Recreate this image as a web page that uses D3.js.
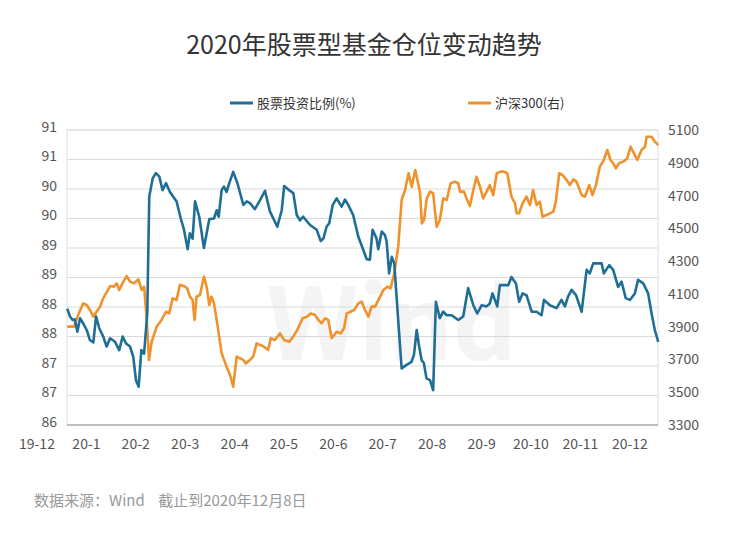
<!DOCTYPE html>
<html>
<head>
<meta charset="utf-8">
<script src="https://cdn.jsdelivr.net/npm/d3@7"></script>
<style>
  body { margin: 0; background: #fff; }
  text { font-family: "Noto Sans CJK SC", "Noto Sans", sans-serif; }
</style>
</head>
<body>
<svg id="chart" width="729" height="541"></svg>
<script>
// trading-day index, value
var stockRatio = [
  [0.1,87.97],[1.2,87.84],[2.3,87.78],[3.2,87.79],[4.2,87.58],[5.3,87.81],[6.6,87.72],[8.0,87.61],[9.3,87.44],[10.7,87.40],
  [11.8,87.84],[13.1,87.64],[14.7,87.50],[16.1,87.33],[17.5,87.47],[19.5,87.41],[21.2,87.27],[22.6,87.50],[24.0,87.38],[25.6,87.33],
  [26.9,87.16],[28.0,86.76],[29.1,86.65],[30.2,87.27],[31.3,87.21],[32.6,87.89],[33.4,89.87],[34.8,90.18],[36.1,90.27],[37.5,90.21],
  [38.8,89.98],[40.2,90.10],[41.8,89.95],[44.5,89.79],[46.2,89.50],[47.5,89.31],[49.0,88.98],[49.9,89.25],[51.0,89.16],[52.0,89.79],
  [53.7,89.53],[55.6,89.00],[57.8,89.49],[59.7,89.50],[60.8,89.64],[61.6,89.53],[62.8,89.98],[63.7,90.04],[64.8,89.95],[65.9,90.10],
  [67.5,90.29],[69.2,90.10],[71.6,89.73],[73.0,89.79],[74.3,89.76],[76.3,89.66],[78.4,89.81],[80.4,89.97],[82.4,89.62],[85.4,89.36],
  [87.2,89.64],[88.2,90.05],[89.9,89.99],[91.9,89.93],[93.3,89.56],[94.6,89.47],[95.9,89.53],[98.7,89.39],[101.4,89.31],[103.0,89.12],
  [104.1,89.16],[105.4,89.36],[106.5,89.42],[107.9,89.73],[109.5,89.84],[111.5,89.70],[112.9,89.82],[114.2,89.73],[116.2,89.56],[118.3,89.19],
  [120.3,88.97],[121.7,88.81],[123.0,88.80],[124.1,89.31],[125.7,89.16],[126.4,88.98],[127.8,89.28],[129.1,89.22],[129.8,89.11],[130.8,88.57],
  [131.9,88.85],[132.9,88.74],[134.5,87.78],[135.9,86.96],[137.9,87.02],[139.9,87.07],[140.9,87.19],[142.0,87.61],[143.0,87.33],[144.0,87.10],
  [144.9,87.05],[146.0,86.79],[147.4,86.76],[148.7,86.59],[149.8,88.09],[151.4,87.81],[152.8,87.92],[154.2,87.86],[156.2,87.86],[158.9,87.78],
  [160.9,87.84],[162.9,88.32],[165.0,88.03],[166.6,87.89],[168.4,88.03],[170.4,88.01],[171.7,88.06],[172.8,88.23],[174.7,88.01],[175.8,88.37],
  [177.8,88.37],[179.2,88.37],[180.5,88.51],[182.3,88.40],[183.6,88.09],[185.0,88.23],[186.6,88.20],[188.7,87.92],[190.7,87.92],[192.7,87.86],
  [193.7,88.12],[196.1,88.03],[198.8,87.98],[200.8,88.12],[202.2,88.01],[203.5,88.18],[204.9,88.29],[206.7,88.20],[209.0,87.92],[211.0,88.63],
  [212.3,88.57],[213.7,88.74],[215.1,88.74],[217.1,88.74],[218.0,88.57],[220.2,88.71],[221.8,88.63],[223.8,88.34],[225.2,88.43],[226.9,88.15],
  [228.6,88.12],[230.6,88.23],[231.9,88.46],[234.0,88.40],[236.0,88.23],[237.4,87.89],[238.7,87.61],[240.1,87.41]
];
var hs300 = [
  [0.1,3900],[2.8,3900],[4.8,3981],[6.6,4042],[8.0,4032],[9.3,4002],[10.7,3961],[12.0,3991],[13.4,4022],[14.7,4073],
  [17.5,4148],[19.1,4144],[20.2,4164],[21.2,4124],[22.9,4175],[24.2,4209],[25.6,4175],[27.2,4164],[29.0,4189],[30.3,4124],
  [31.3,4144],[32.3,3961],[33.3,3697],[34.4,3808],[36.4,3900],[38.4,3941],[40.2,3991],[41.5,3981],[42.9,4073],[44.5,4063],
  [45.8,4154],[47.5,4148],[48.8,4134],[49.9,4083],[51.0,4063],[51.8,3941],[52.6,4083],[54.0,4093],[55.6,4205],[56.7,4144],
  [57.8,4032],[58.7,4083],[59.7,4042],[61.0,3920],[62.8,3737],[64.8,3656],[66.2,3605],[67.5,3534],[68.9,3717],[70.2,3707],
  [71.6,3697],[72.6,3676],[74.3,3697],[75.6,3717],[77.0,3798],[78.4,3788],[80.0,3778],[81.7,3758],[82.7,3829],[84.4,3819],
  [86.5,3859],[88.1,3819],[90.3,3808],[91.9,3839],[93.5,3880],[95.7,3951],[97.4,3961],[99.0,3981],[100.7,3971],[102.1,3941],
  [103.4,3920],[104.8,3951],[106.1,3941],[107.5,3829],[109.5,3869],[111.2,3859],[112.5,3890],[113.6,3981],[115.2,3991],[116.6,4002],
  [118.3,4042],[119.7,4053],[121.0,4002],[122.4,3961],[123.7,4022],[125.1,4022],[126.8,4073],[128.5,4124],[130.1,4144],[131.4,4134],
  [132.9,4225],[134.5,4388],[135.9,4673],[137.3,4734],[138.7,4836],[140.0,4754],[141.4,4856],[142.3,4795],[143.4,4714],[144.1,4530],
  [145.0,4551],[146.1,4683],[147.4,4724],[148.7,4714],[150.1,4510],[151.4,4551],[152.8,4683],[154.2,4673],[155.8,4775],[157.5,4785],
  [158.9,4775],[159.6,4724],[161.2,4724],[162.5,4673],[163.6,4636],[165.0,4734],[166.3,4815],[167.7,4754],[169.0,4683],[170.4,4724],
  [171.7,4764],[173.1,4703],[174.5,4836],[176.1,4846],[177.4,4846],[178.8,4836],[180.5,4693],[181.9,4653],[182.6,4592],[183.6,4592],
  [185.0,4653],[186.6,4693],[188.0,4642],[189.3,4734],[190.7,4642],[192.0,4663],[193.1,4571],[194.7,4581],[197.5,4602],[198.5,4663],
  [199.9,4836],[201.2,4826],[202.9,4795],[204.2,4764],[205.6,4799],[206.9,4785],[209.0,4703],[210.3,4693],[212.1,4764],[213.4,4703],
  [214.8,4764],[216.4,4876],[218.0,4917],[219.4,4978],[220.7,4917],[221.8,4897],[222.9,4866],[224.2,4897],[225.9,4907],[227.5,4927],
  [228.9,4998],[230.6,4947],[231.6,4917],[233.3,4978],[234.7,4998],[235.4,5059],[237.4,5059],[238.7,5029],[240.1,5008]
];
var monthLabels = ["19-12","20-1","20-2","20-3","20-4","20-5","20-6","20-7","20-8","20-9","20-10","20-11","20-12"];
var monthDays = [-12.2, 7.9, 27.9, 48.0, 68.1, 88.1, 108.2, 128.2, 148.3, 168.4, 188.4, 208.5, 228.6];
var leftTicks = [86, 86.5, 87, 87.5, 88, 88.5, 89, 89.5, 90, 90.5, 91];
var rightTicks = [3300, 3500, 3700, 3900, 4100, 4300, 4500, 4700, 4900, 5100];

var blue = "#1f6e96", orange = "#f0922c";
var svg = d3.select("#chart");
var m = {left: 67, right: 658, top: 130, bottom: 425};

var x = d3.scaleLinear().domain([0, 240]).range([m.left, m.right]);
var yL = d3.scaleLinear().domain([86, 91]).range([m.bottom, m.top]);
var yR = d3.scaleLinear().domain([3300, 5100]).range([m.bottom, m.top]);

svg.append("text").attr("x", 364).attr("y", 54).attr("text-anchor", "middle")
  .attr("font-size", 25).attr("fill", "#333").text("2020年股票型基金仓位变动趋势");

// legend
var lg = svg.append("g").attr("font-size", 13).attr("fill", "#333");
lg.append("line").attr("x1", 230).attr("x2", 253).attr("y1", 103).attr("y2", 103).attr("stroke", blue).attr("stroke-width", 3);
lg.append("text").attr("x", 257).attr("y", 108).text("股票投资比例(%)");
lg.append("line").attr("x1", 468).attr("x2", 491).attr("y1", 103).attr("y2", 103).attr("stroke", orange).attr("stroke-width", 3);
lg.append("text").attr("x", 495).attr("y", 108).text("沪深300(右)");

// watermark
svg.append("text").attr("x", 392).attr("y", 360).attr("text-anchor", "middle")
  .attr("font-size", 100).attr("font-weight", "bold").attr("fill", "#f4f4f4")
  .attr("font-family", "Arial, Liberation Sans, sans-serif").text("Wind");

// grid
svg.append("g").selectAll("line").data(leftTicks).join("line")
  .attr("x1", m.left).attr("x2", m.right)
  .attr("y1", d => yL(d)).attr("y2", d => yL(d))
  .attr("stroke", "#d9d9d9");
svg.append("rect").attr("x", m.left).attr("y", m.top).attr("width", m.right - m.left).attr("height", m.bottom - m.top)
  .attr("fill", "none").attr("stroke", "#ddd");
svg.append("line").attr("x1", m.left).attr("x2", m.right).attr("y1", m.bottom).attr("y2", m.bottom).attr("stroke", "#999");

// axes
var axL = d3.axisLeft(yL).tickValues(leftTicks).tickSize(0).tickPadding(10).tickFormat(d => Math.round(d));
svg.append("g").attr("transform", "translate(" + m.left + ",-3)").call(axL)
  .call(g => g.select(".domain").remove());
var axR = d3.axisRight(yR).tickValues(rightTicks).tickSize(0).tickPadding(10).tickFormat(d3.format("d"));
svg.append("g").attr("transform", "translate(" + m.right + ",0)").call(axR)
  .call(g => g.select(".domain").remove());
svg.selectAll(".tick text").attr("font-size", 14).attr("fill", "#555")
  .attr("font-family", "Liberation Sans, Arial, sans-serif");

svg.append("g").selectAll("text").data(monthLabels).join("text")
  .attr("x", (d, i) => x(monthDays[i])).attr("y", 449)
  .attr("text-anchor", "middle").attr("font-size", 14).attr("fill", "#555")
  .attr("font-family", "Liberation Sans, Arial, sans-serif").text(d => d);

// lines
var lineL = d3.line().x(d => x(d[0])).y(d => yL(d[1]));
var lineR = d3.line().x(d => x(d[0])).y(d => yR(d[1]));
svg.append("path").datum(hs300).attr("d", lineR).attr("fill", "none")
  .attr("stroke", orange).attr("stroke-width", 2.6).attr("stroke-linejoin", "round");
svg.append("path").datum(stockRatio).attr("d", lineL).attr("fill", "none")
  .attr("stroke", blue).attr("stroke-width", 2.6).attr("stroke-linejoin", "round");

svg.append("text").attr("x", 34).attr("y", 506).attr("font-size", 15).attr("fill", "#999")
  .text("数据来源：Wind    截止到2020年12月8日").attr("xml:space", "preserve");
</script>
</body>
</html>
